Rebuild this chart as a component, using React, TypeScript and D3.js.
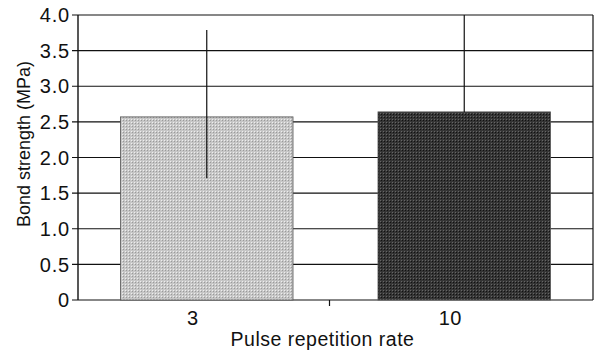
import { useEffect, useRef } from "react";
import * as d3 from "d3";

const categories = ["3", "10"];
const means = [2.57, 2.64];
const errLow = [1.71, 2.64];
const errHigh = [3.79, 4.0];
const barColors = ["#c6c6c6", "#353535"];
const yTicks = [0, 0.5, 1.0, 1.5, 2.0, 2.5, 3.0, 3.5, 4.0];

const W = 594, H = 353;
const margin = { left: 78, top: 15, right: 1, bottom: 53 };

export default function App() {
  const svgRef = useRef<SVGSVGElement>(null);

  useEffect(() => {
    const svg = d3.select(svgRef.current);
    svg.selectAll("*").remove();
    const w = W - margin.left - margin.right;
    const h = H - margin.top - margin.bottom;
    const main = svg.append("g").attr("transform", `translate(${margin.left}, ${margin.top})`);

    const x = d3.scaleBand().domain(categories).range([0, w]).paddingInner(0.33).paddingOuter(0.165);
    const xOuter = d3.scaleBand().domain(categories).range([0, w]);
    const y = d3.scaleLinear().domain([0, 4]).range([h, 0]);

    // texture pattern
    const defs = svg.append("defs");
    barColors.forEach((c, i) => {
      const p = defs.append("pattern").attr("id", "tex" + i).attr("width", 3).attr("height", 3)
        .attr("patternUnits", "userSpaceOnUse");
      p.append("rect").attr("width", 3).attr("height", 3).attr("fill", c);
      p.append("rect").attr("width", 1).attr("height", 1).attr("fill", i === 0 ? "#9a9a9a" : "#111");
      p.append("rect").attr("x", 2).attr("y", 2).attr("width", 1).attr("height", 1).attr("fill", i === 0 ? "#eeeeee" : "#666");
    });

    // gridlines
    main.append("g").selectAll("line").data(yTicks).join("line")
      .attr("x1", -6).attr("x2", w).attr("y1", d => y(d)).attr("y2", d => y(d))
      .attr("stroke", "#111").attr("stroke-width", 1.2);

    // bars
    main.append("g").selectAll("rect").data(categories).join("rect")
      .attr("x", d => x(d)!).attr("width", x.bandwidth())
      .attr("y", (d, i) => y(means[i])).attr("height", (d, i) => h - y(means[i]))
      .attr("fill", (d, i) => `url(#tex${i})`)
      .attr("stroke", "#555").attr("stroke-width", 0.8);

    // error bars
    main.append("g").selectAll("line").data(categories).join("line")
      .attr("x1", d => x(d)! + x.bandwidth() / 2).attr("x2", d => x(d)! + x.bandwidth() / 2)
      .attr("y1", (d, i) => y(errLow[i])).attr("y2", (d, i) => y(errHigh[i]))
      .attr("stroke", "#111").attr("stroke-width", 1.2);

    // axes lines
    main.append("line").attr("x1", 0).attr("x2", 0).attr("y1", 0).attr("y2", h).attr("stroke", "#111").attr("stroke-width", 1.4);
    main.append("line").attr("x1", w).attr("x2", w).attr("y1", 0).attr("y2", h).attr("stroke", "#111").attr("stroke-width", 1.2);
    main.append("line").attr("x1", xOuter.bandwidth() - 6).attr("x2", xOuter.bandwidth() - 6).attr("y1", h).attr("y2", h + 6)
      .attr("stroke", "#111").attr("stroke-width", 1.2);

    const font = "'Liberation Sans', Arial, sans-serif";
    main.append("g").selectAll("text").data(yTicks).join("text")
      .attr("x", -8).attr("y", d => y(d)).attr("dy", "0.36em").attr("text-anchor", "end")
      .attr("font-family", font).attr("font-size", 20).attr("letter-spacing", 0.8).attr("fill", "#111")
      .text(d => (d === 0 ? "0" : d.toFixed(1)));

    main.append("g").selectAll("text").data(categories).join("text")
      .attr("x", d => x(d)! + x.bandwidth() / 2 - 14).attr("y", h + 25).attr("text-anchor", "middle")
      .attr("font-family", font).attr("font-size", 20).attr("letter-spacing", 0.5).attr("fill", "#111")
      .text(d => d);

    main.append("text").attr("x", w / 2 - 13).attr("y", h + 46).attr("text-anchor", "middle")
      .attr("font-family", font).attr("font-size", 19.5).attr("letter-spacing", 0.5).attr("fill", "#111")
      .text("Pulse repetition rate");

    svg.append("text").attr("transform", `translate(24, ${margin.top + 129}) rotate(-90)`)
      .attr("dy", "0.36em").attr("text-anchor", "middle")
      .attr("font-family", font).attr("font-size", 18).attr("fill", "#111")
      .text("Bond strength (MPa)");
  }, []);

  return (
    <svg ref={svgRef} width={W} height={H} viewBox={`0 0 ${W} ${H}`}
      style={{ position: "absolute", left: 0, top: 0, background: "#fff" }} />
  );
}
